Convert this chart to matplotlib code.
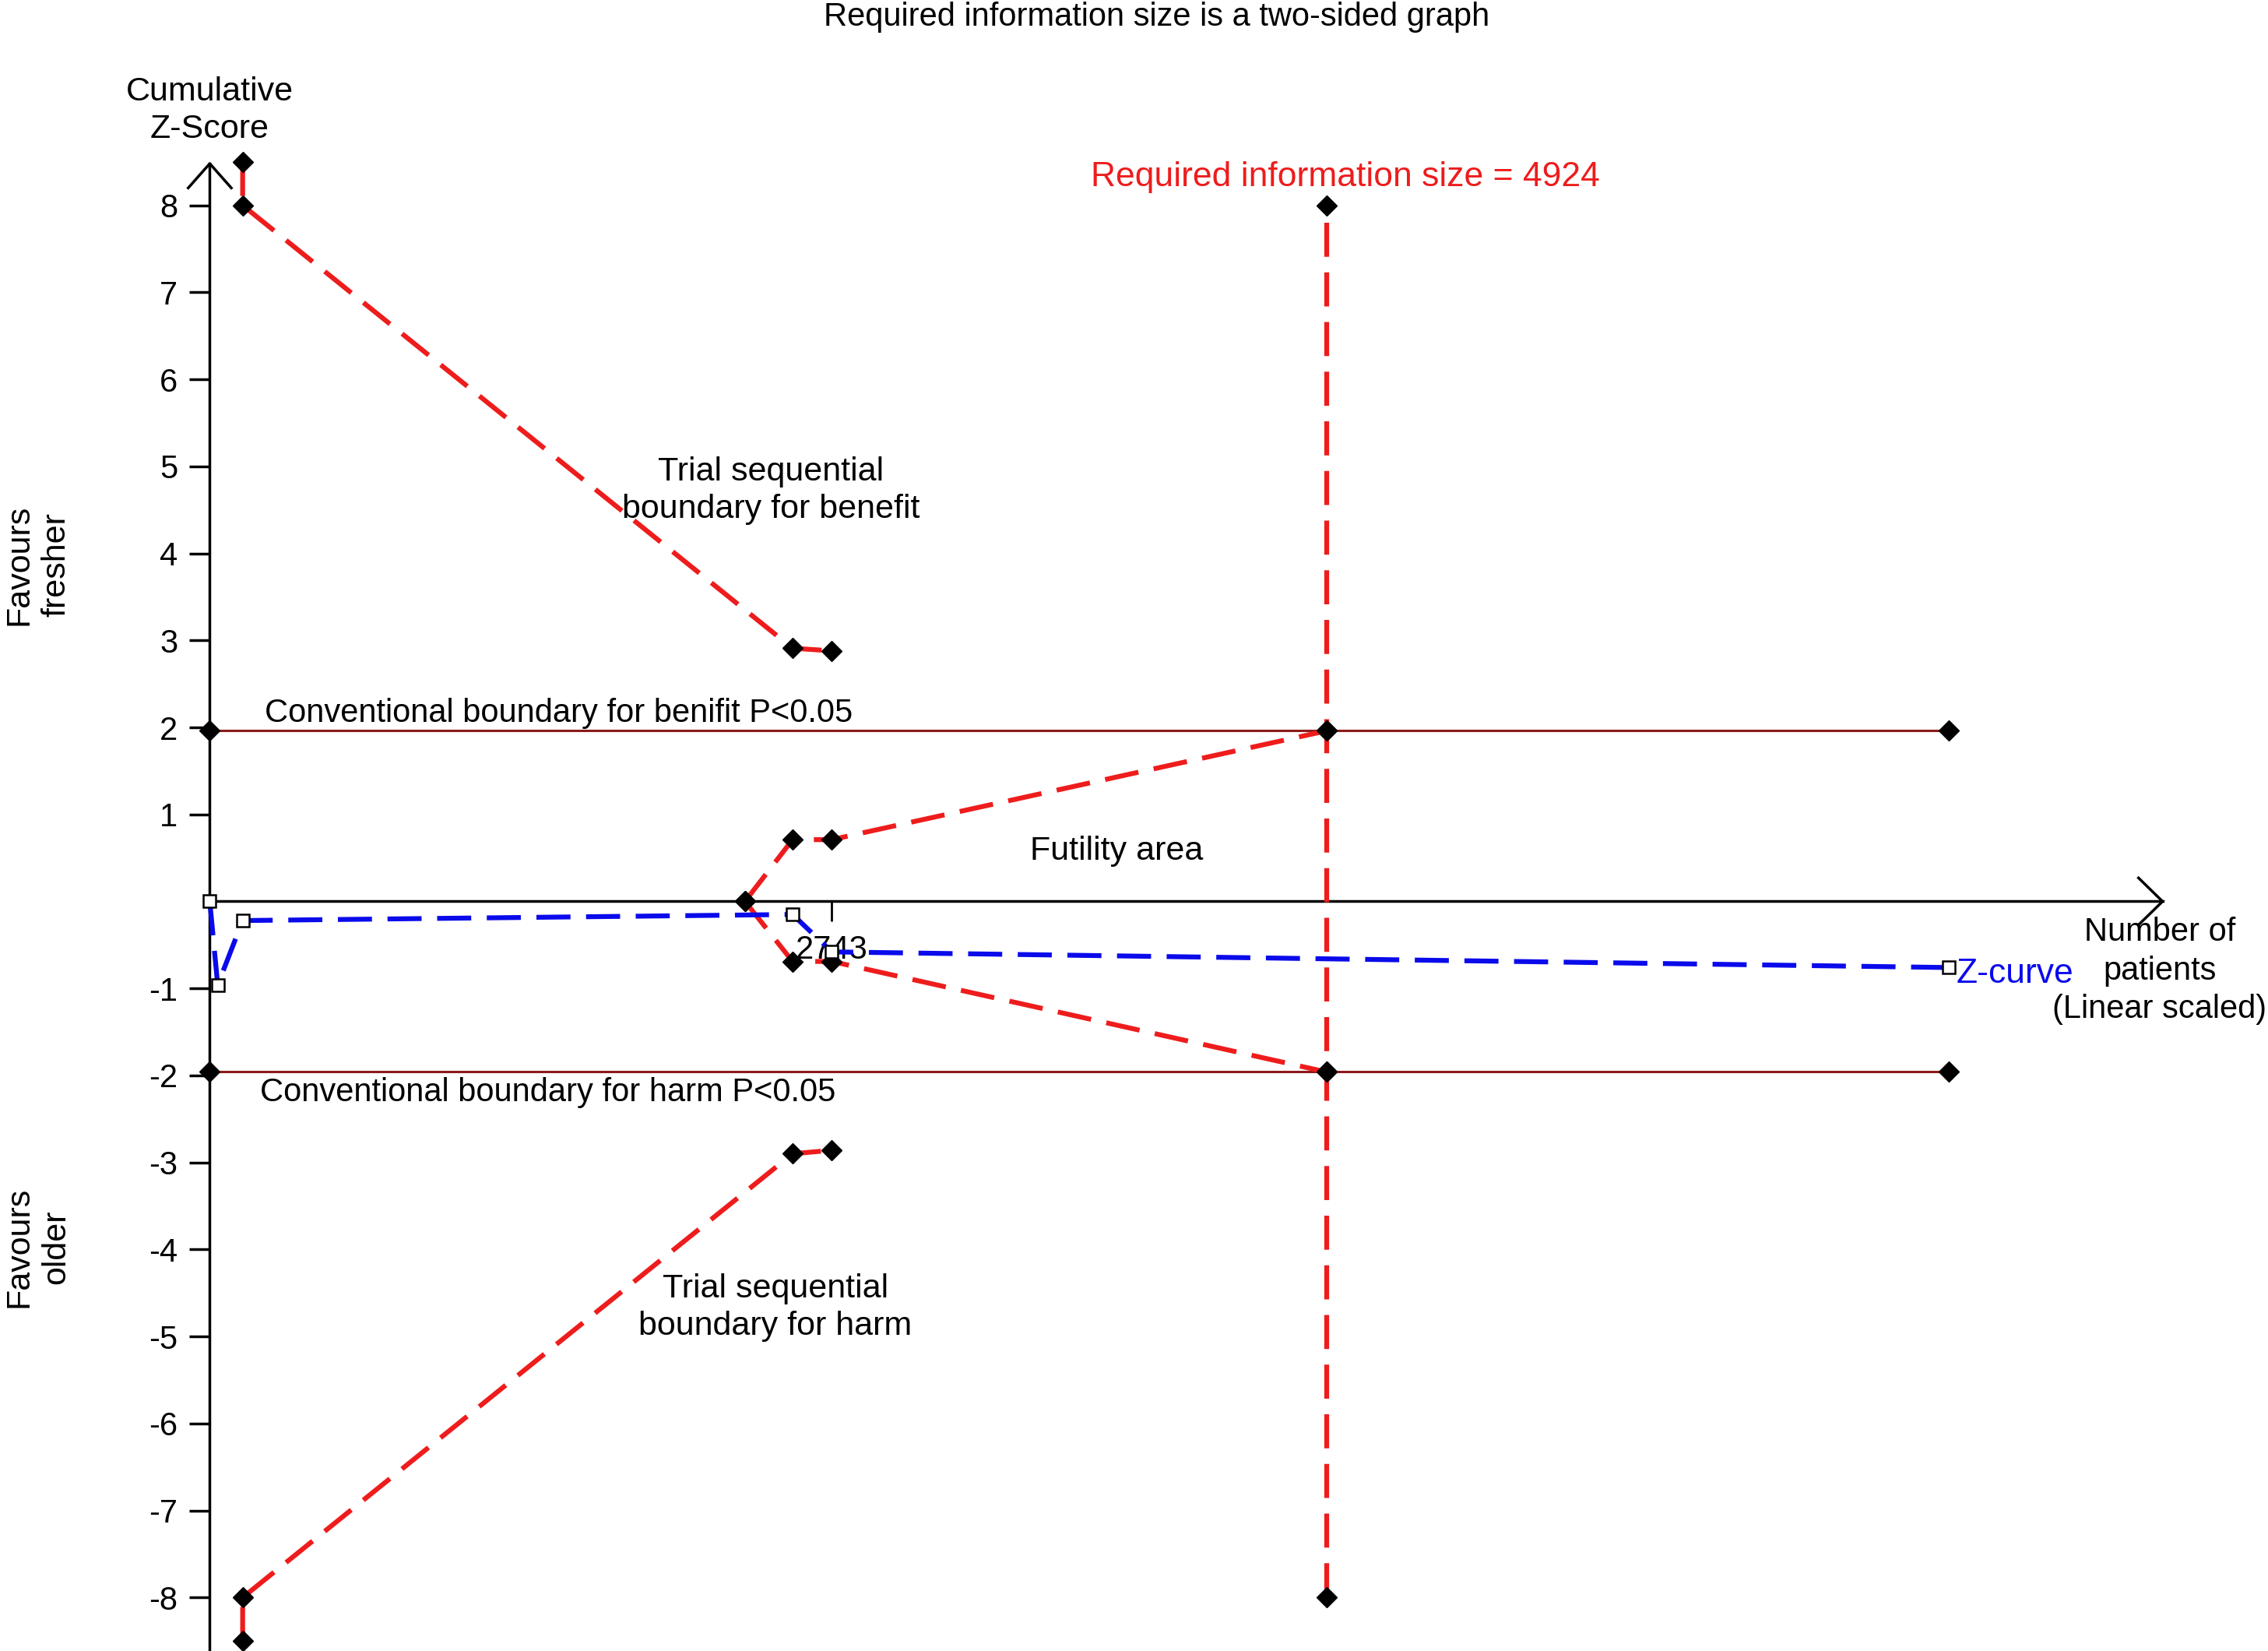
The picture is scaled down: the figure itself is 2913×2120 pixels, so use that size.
import matplotlib.pyplot as plt

plt.rcParams['font.family'] = ['Liberation Sans', 'DejaVu Sans']

# ---- data ----
ris = 4924                      # required information size
n_z = [0, 35, 145, 2570, 2743, 7670]
z_curve = [0, -0.96, -0.22, -0.15, -0.58, -0.76]

n_tsb = [145, 145, 2570, 2743]
tsb_upper = [8.5, 8.0, 2.91, 2.88]
tsb_lower = [-8.5, -8.0, -2.90, -2.86]

n_fut = [2360, 2570, 2743, ris]
fut_upper = [0, 0.71, 0.71, 1.96]
fut_lower = [0, -0.69, -0.69, -1.96]

n_conv = [0, ris, 7670]
conv_upper = [1.96, 1.96, 1.96]
conv_lower = [-1.96, -1.96, -1.96]

ris_z = [-8, 8]
yticks = [-8, -7, -6, -5, -4, -3, -2, -1, 1, 2, 3, 4, 5, 6, 7, 8]
xticks = [2743]

red = '#ee1c1c'
darkred = '#8c1a1a'
blue = '#0a0aeb'
dash = (7.0, 3.2)
fs = 30
ls = 1.26

fig = plt.figure(figsize=(29.13, 21.2), dpi=100)
ax = fig.add_axes([0, 0, 1, 1])
ax.set_xlim(-925, 9076)
ax.set_ylim(-8.615, 10.36)
ax.patch.set_visible(False)

# axes through the origin
for s in ['top', 'right']:
    ax.spines[s].set_visible(False)
ax.spines['left'].set_position(('data', 0))
ax.spines['bottom'].set_position(('data', 0))
ax.spines['left'].set_bounds(-8.615, 8.48)
ax.spines['bottom'].set_bounds(0, 8611)
for s in ['left', 'bottom']:
    ax.spines[s].set_linewidth(2.5)
ax.set_yticks(yticks)
ax.set_yticklabels([str(v) for v in yticks])
ax.set_xticks(xticks)
ax.set_xticklabels([str(v) for v in xticks])
ax.tick_params(axis='y', direction='out', length=18.7, width=2.5, pad=11, labelsize=fs)
ax.tick_params(axis='x', direction='out', length=18.7, width=2, pad=12, labelsize=fs)

# arrow heads
ax.plot([-95, 0, 95], [8.2, 8.48, 8.2], color='black', lw=2.5, clip_on=False)
ax.plot([8505, 8611, 8505], [0.27, 0, -0.27], color='black', lw=2.5, clip_on=False)

# conventional boundaries
mk = dict(marker='D', markersize=13, markerfacecolor='black', markeredgecolor='black')
ax.plot(n_conv, conv_upper, color=darkred, lw=2.2, **mk, zorder=3)
ax.plot(n_conv, conv_lower, color=darkred, lw=2.2, **mk, zorder=3)

# required information size line
ax.plot([ris, ris], ris_z, color=red, lw=4.5, dashes=dash, **mk, zorder=3)

# trial sequential boundaries
ax.plot(n_tsb, tsb_upper, color=red, lw=4.5, dashes=dash, **mk, zorder=4, clip_on=False)
ax.plot(n_tsb, tsb_lower, color=red, lw=4.5, dashes=dash, **mk, zorder=4, clip_on=False)

# futility wedge
ax.plot(n_fut, fut_upper, color=red, lw=4.5, dashes=dash, **mk, zorder=4)
ax.plot(n_fut, fut_lower, color=red, lw=4.5, dashes=dash, **mk, zorder=4)

# z-curve
ax.plot(n_z, z_curve, color=blue, lw=4.5, dashes=dash, marker='s', markersize=12,
        markerfacecolor='white', markeredgecolor='black', markeredgewidth=1.8, zorder=5)

# labels
fig.text(0.510, 0.9895, 'Required information size is a two-sided graph',
         ha='center', va='center', fontsize=fs)
fig.text(0.0925, 0.933, 'Cumulative\nZ-Score', ha='center', va='center',
         fontsize=fs + 1, linespacing=ls)
fig.text(0.0166, 0.658, 'Favours\nfresher', ha='center', va='center',
         rotation=90, fontsize=fs + 1, linespacing=ls)
fig.text(0.0166, 0.2445, 'Favours\nolder', ha='center', va='center',
         rotation=90, fontsize=fs + 1, linespacing=ls)

ax.text(5007, 8.32, 'Required information size = ' + str(ris), color=red,
        ha='center', va='center', fontsize=fs + 2)
ax.text(2475, 4.72, 'Trial sequential\nboundary for benefit', ha='center',
        va='center', fontsize=fs + 1, linespacing=ls)
ax.text(242, 2.16, 'Conventional boundary for benifit P<0.05', ha='left',
        va='center', fontsize=fs)
ax.text(3999, 0.58, 'Futility area', ha='center', va='center', fontsize=fs + 1)
ax.text(223, -2.195, 'Conventional boundary for harm P<0.05', ha='left',
        va='center', fontsize=fs)
ax.text(2494, -4.67, 'Trial sequential\nboundary for harm', ha='center',
        va='center', fontsize=fs + 1, linespacing=ls)
ax.text(n_z[-1] + 30, -0.83, 'Z-curve', color=blue, ha='left', va='center', fontsize=fs + 2)
ax.text(8598, -0.80, 'Number of\npatients\n(Linear scaled)', ha='center',
        va='center', fontsize=fs, linespacing=1.31)

fig.savefig('out.png', dpi=100)
